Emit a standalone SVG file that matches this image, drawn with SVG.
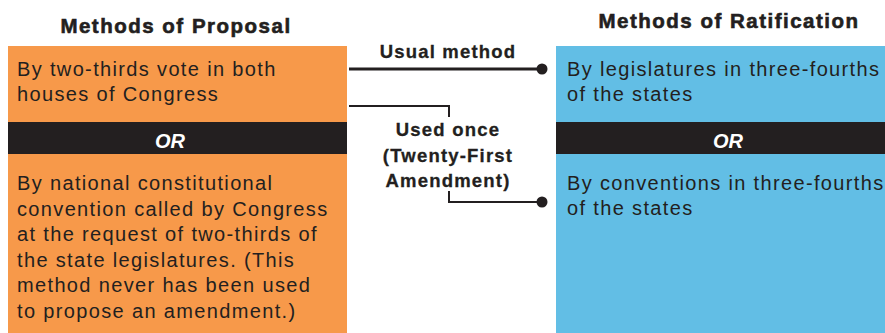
<svg xmlns="http://www.w3.org/2000/svg" width="885" height="333" viewBox="0 0 885 333">
<style>
.title{font-family:"Liberation Sans",Arial,sans-serif;font-weight:bold;font-size:20.5px;letter-spacing:1.5px;fill:#231f20;stroke:#231f20;stroke-width:0.6px;text-anchor:middle}
.body{font-family:"Liberation Sans",Arial,sans-serif;font-size:20px;letter-spacing:1.35px;fill:#231f20}
.or{font-family:"Liberation Sans",Arial,sans-serif;font-weight:bold;font-style:italic;font-size:20px;fill:#ffffff;text-anchor:middle}
.lbl{font-family:"Liberation Sans",Arial,sans-serif;font-weight:bold;font-size:18.5px;letter-spacing:1.2px;fill:#231f20;stroke:#231f20;stroke-width:0.3px;text-anchor:middle}
.band{fill:#231f20}
.orange{fill:#f7994a}
.blue{fill:#62bee5}
.ln{fill:none;stroke:#231f20;stroke-linecap:butt}
.dot{fill:#231f20}
</style>
<rect width="885" height="333" fill="#ffffff"/>
<g id="proposal">
<text class="title" x="176" y="33">Methods of Proposal</text>
<rect class="orange" x="8" y="46" width="339" height="287"/>
<rect class="band" x="8" y="122" width="339" height="32"/>
<text class="or" x="170" y="148">OR</text>
<text class="body" x="17" y="76">By two-thirds vote in both</text>
<text class="body" x="17" y="101">houses of Congress</text>
<text class="body" x="17" y="190">By national constitutional</text>
<text class="body" x="17" y="216">convention called by Congress</text>
<text class="body" x="17" y="241">at the request of two-thirds of</text>
<text class="body" x="17" y="267">the state legislatures. (This</text>
<text class="body" x="17" y="292">method never has been used</text>
<text class="body" x="17" y="318">to propose an amendment.)</text>
</g>
<g id="ratification">
<text class="title" x="729" y="28">Methods of Ratification</text>
<rect class="blue" x="556" y="46" width="329" height="287"/>
<rect class="band" x="556" y="122" width="329" height="32"/>
<text class="or" x="728" y="148">OR</text>
<text class="body" x="567" y="76">By legislatures in three-fourths</text>
<text class="body" x="567" y="101">of the states</text>
<text class="body" x="567" y="190">By conventions in three-fourths</text>
<text class="body" x="567" y="215">of the states</text>
</g>
<g id="connectors">
<path class="ln" stroke-width="3" d="M349 69H542"/>
<circle class="dot" cx="542" cy="69" r="5.5"/>
<text class="lbl" x="448" y="58">Usual method</text>
<path class="ln" stroke-width="2" d="M349 106H449V117"/>
<path class="ln" stroke-width="2" d="M449 191V202H542"/>
<circle class="dot" cx="542" cy="202" r="5.5"/>
<text class="lbl" x="448" y="136">Used once</text>
<text class="lbl" x="448" y="162">(Twenty-First</text>
<text class="lbl" x="448" y="187">Amendment)</text>
</g>
</svg>
